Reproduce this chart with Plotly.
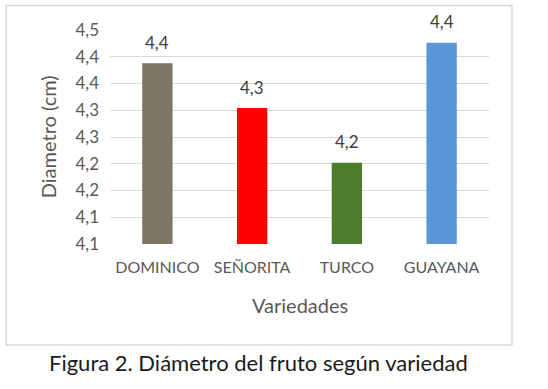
import plotly.graph_objects as go

categories = ["DOMINICO", "SEÑORITA", "TURCO", "GUAYANA"]
values = [4.388, 4.304, 4.202, 4.426]
value_labels = ["4,4", "4,3", "4,2", "4,4"]
bar_colors = ["#7d7566", "#ff0000", "#4b7d2d", "#5b97d8"]
tick_vals = [4.05, 4.10, 4.15, 4.20, 4.25, 4.30, 4.35, 4.40, 4.45]
tick_text = ["4,1", "4,1", "4,2", "4,2", "4,3", "4,3", "4,4", "4,4", "4,5"]

FONT = "Lato, 'Open Sans', sans-serif"
TXT = "#595959"

fig = go.Figure()
fig.add_trace(go.Bar(
    x=categories, y=values,
    marker=dict(color=bar_colors, line=dict(width=0)),
    hoverinfo="skip",
))

for c, v, t in zip(categories, values, value_labels):
    fig.add_annotation(x=c, y=v, text=t, showarrow=False, yshift=21,
                       xanchor="center", yanchor="middle",
                       font=dict(family=FONT, size=17, color="#404040"))

fig.add_annotation(xref="paper", yref="paper", x=0.5, y=-0.285, text="Variedades",
                   xanchor="center", yanchor="middle",
                   showarrow=False, font=dict(family=FONT, size=20, color=TXT))
fig.add_annotation(xref="paper", yref="paper", x=-0.163, y=0.5, text="Diametro (cm)",
                   xanchor="center", yanchor="middle",
                   textangle=-90, showarrow=False, font=dict(family=FONT, size=20, color=TXT))
fig.add_annotation(xref="paper", yref="paper", x=0.393, y=-0.553,
                   text="Figura 2. Diámetro del fruto según variedad",
                   xanchor="center", yanchor="middle",
                   showarrow=False, font=dict(family=FONT, size=22, color="#1a1a1a"))

fig.add_shape(type="rect", xref="paper", yref="paper",
              x0=-0.274, x1=1.0607, y0=-0.4725, y1=1.115,
              line=dict(color="#d9d9d9", width=1.5), fillcolor="rgba(0,0,0,0)", layer="below")

fig.update_layout(
    width=548, height=389,
    margin=dict(l=110, r=59, t=30, b=145),
    paper_bgcolor="white", plot_bgcolor="white",
    bargap=0.68, showlegend=False,
    font=dict(family=FONT, color=TXT),
)
fig.update_xaxes(showgrid=False, showline=False, ticks="",
                 tickfont=dict(family=FONT, size=16, color=TXT),
                 ticklabelstandoff=12)
fig.update_yaxes(range=[4.05, 4.45], tickvals=tick_vals, ticktext=tick_text,
                 showgrid=True, gridcolor="#d9d9d9", gridwidth=1,
                 zeroline=False, showline=False, ticks="",
                 tickfont=dict(family=FONT, size=17, color=TXT),
                 ticklabelstandoff=10)

fig.write_html("out.html", config={"displayModeBar": False},
               post_script="document.body.style.margin='0';")
